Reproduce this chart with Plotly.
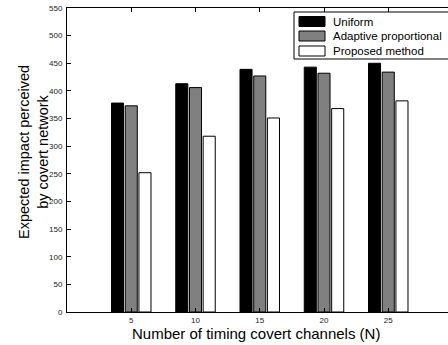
import plotly.graph_objects as go

channels = [5, 10, 15, 20, 25]
uniform = [378, 413, 439, 443, 450]
adaptive = [373, 406, 427, 432, 434]
proposed = [252, 318, 351, 368, 382]
series_names = ["Uniform", "Adaptive proportional", "Proposed method"]
series_colors = ["#000000", "#808080", "#ffffff"]
y_ticks = list(range(0, 551, 50))

W, H = 448, 345
L, R, T, B = 67, 0, 8, 33
PW, PH = W - L - R, H - T - B


def px(x):
    return (x - L) / PW


def py(y):
    return (H - B - y) / PH


fig = go.Figure()
for name, vals, col in zip(series_names, [uniform, adaptive, proposed], series_colors):
    fig.add_trace(go.Bar(x=channels, y=vals, name=name,
                         marker=dict(color=col, line=dict(color="#000000", width=1))))

# legend drawn manually to match the compact boxed legend
shapes = [dict(type="rect", xref="paper", yref="paper",
               x0=px(294), x1=px(452), y0=py(59), y1=py(12),
               line=dict(color="#000000", width=1), fillcolor="white", layer="above")]
annotations = []
row_centers = [21.5, 36, 51]
for name, col, yc in zip(series_names, series_colors, row_centers):
    shapes.append(dict(type="rect", xref="paper", yref="paper",
                       x0=px(299), x1=px(325), y0=py(yc + 5), y1=py(yc - 5),
                       line=dict(color="#000000", width=1), fillcolor=col, layer="above"))
    annotations.append(dict(text=name, xref="paper", yref="paper", x=px(331), y=py(yc),
                            xanchor="left", yanchor="middle", showarrow=False,
                            font=dict(size=11.5)))

annotations.append(dict(text="Number of timing covert channels (N)", xref="paper", yref="paper",
                        x=px(256), y=py(333), xanchor="center", yanchor="middle",
                        showarrow=False, font=dict(size=15)))
annotations.append(dict(text="Expected impact perceived<br>by covert network", xref="paper",
                        yref="paper", x=px(33), y=py(152), xanchor="center", yanchor="middle",
                        textangle=-90, showarrow=False, font=dict(size=14.5)))

fig.update_layout(
    width=W, height=H,
    margin=dict(l=L, r=R, t=T, b=B),
    paper_bgcolor="white", plot_bgcolor="white",
    barmode="group", bargap=0.36, bargroupgap=0.12,
    font=dict(family="Liberation Sans", color="#000000"),
    showlegend=False,
    shapes=shapes, annotations=annotations,
    xaxis=dict(range=[0, 29.65], tickvals=channels, ticktext=[str(c) for c in channels],
               showline=True, linecolor="#000000", linewidth=1, mirror="ticks",
               ticks="inside", ticklen=4, tickcolor="#000000",
               showgrid=False, zeroline=False, tickfont=dict(size=8, color="#222222")),
    yaxis=dict(range=[0, 550], tickvals=y_ticks,
               showline=True, linecolor="#000000", linewidth=1, mirror=False,
               ticks="inside", ticklen=4, tickcolor="#000000", ticklabelstandoff=2,
               showgrid=False, zeroline=False, tickfont=dict(size=8, color="#222222")),
)
fig.write_html("out.html", config={"displayModeBar": False},
               post_script="document.body.style.margin='0';document.body.style.overflow='hidden';")
